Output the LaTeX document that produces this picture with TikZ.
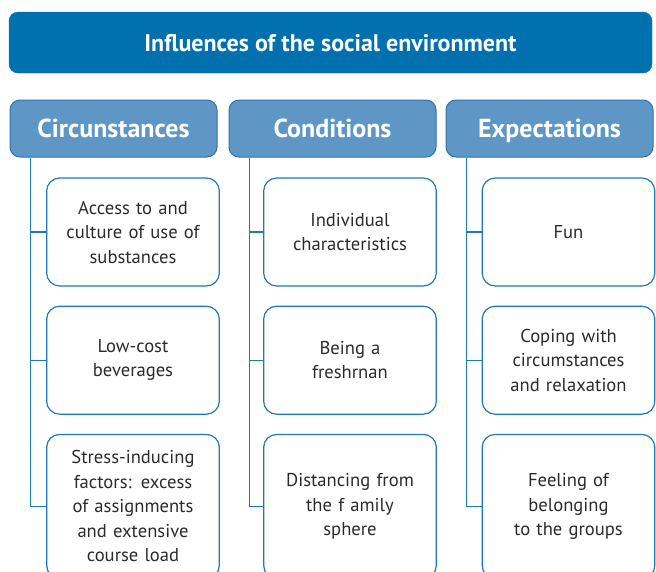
\documentclass[tikz,border=0pt]{standalone}
\usepackage{fontspec}
\setmainfont{PT Sans}
\usetikzlibrary{positioning}
\definecolor{titleblue}{HTML}{0070AE}
\definecolor{headblue}{HTML}{5E96C6}
\definecolor{headline}{HTML}{2E73AE}
\definecolor{linkblue}{HTML}{1F78B8}
\definecolor{itemtext}{HTML}{2B2B2B}

\begin{document}
\begin{tikzpicture}[x=1pt, y=-1pt,
	title/.style={fill=titleblue, draw=titleblue, rounded corners=9pt, minimum width=643pt, minimum height=61pt, text height=17pt, text depth=0pt, text=white, font=\bfseries\fontsize{24}{27}\selectfont},
	head/.style={fill=headblue, draw=headline, line width=1pt, rounded corners=10pt, minimum width=207pt, minimum height=57pt, text height=18.5pt, text depth=0pt, text=white, font=\bfseries\fontsize{26}{29}\selectfont},
	item/.style={draw=linkblue, line width=1.2pt, rounded corners=13pt, minimum width=172pt, minimum height=108pt, align=center, text width=166pt, text=itemtext, font=\fontsize{18.6}{24.5}\selectfont},
	link/.style={draw=linkblue, line width=1.2pt}]
	\clip (0,0) rectangle (656,571);
	\node[title] (infl) at (330.5,42.5) {Influences of the social environment};

	\node[head] (circ) at (113.5,128.5) {Circunstances};
	\node[head] (cond) at (332.5,128.5) {Conditions};
	\node[head] (expe) at (549.5,128.5) {Expectations};

	\node[item] (circa) at (133,232) {Access to and\\ culture of use of\\ substances};
	\node[item, below=19pt of circa] (circb) {Low-cost\\ beverages};
	\node[item, below=19pt of circb, minimum height=144pt] (circc) {Stress-inducing\\ factors: excess\\ of assignments\\ and extensive\\ course load};

	\node[item] (conda) at (350,232) {Individual\\ characteristics};
	\node[item, below=19pt of conda] (condb) {Being a\\ freshrnan};
	\node[item, below=19pt of condb, minimum height=144pt] (condc) {Distancing from\\ the f amily\\ sphere};

	\node[item] (expea) at (568.5,232) {Fun};
	\node[item, below=19pt of expea] (expeb) {Coping with\\ circumstances\\ and relaxation};
	\node[item, below=19pt of expeb, minimum height=144pt] (expec) {Feeling of\\ belonging\\ to the groups};

	\foreach \h/\c in {circ/circ, cond/cond, expe/expe} {
		\draw[link] ([xshift=21pt]\h.south west) |- (\c c.west);
		\draw[link] ([xshift=21pt]\h.south west) |- (\c a.west);
		\draw[link] ([xshift=21pt]\h.south west) |- (\c b.west);
	}
\end{tikzpicture}
\end{document}
